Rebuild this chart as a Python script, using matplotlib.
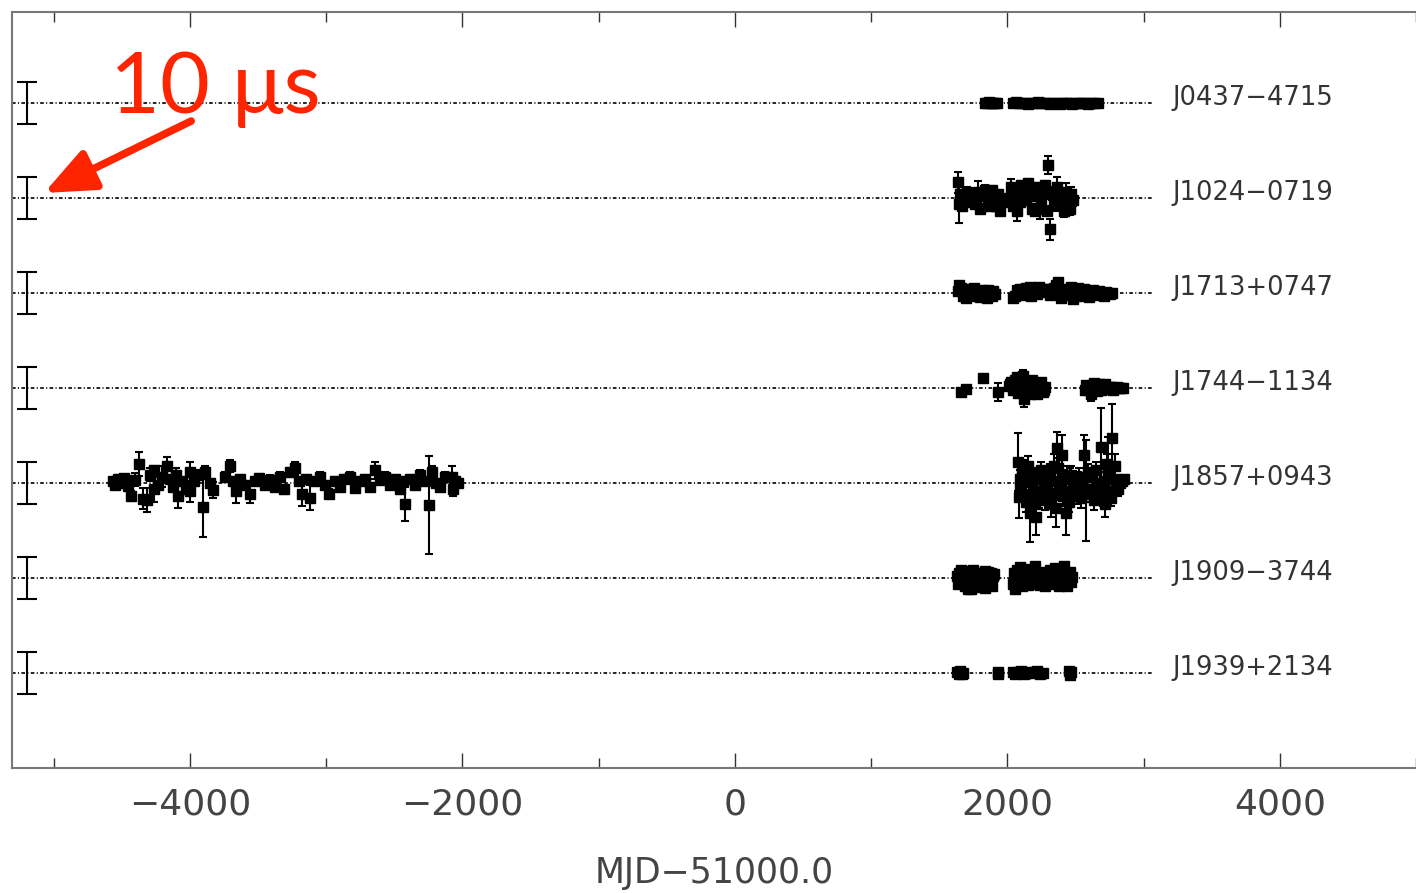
import numpy as np
import matplotlib
matplotlib.use('Agg')
import matplotlib.pyplot as plt
from matplotlib.ticker import MultipleLocator

# pulsar names, top to bottom
pulsars = ['J0437\u22124715', 'J1024\u22120719', 'J1713+0747', 'J1744\u22121134',
           'J1857+0943', 'J1909\u22123744', 'J1939+2134']

# timing residuals: day (MJD-51000), residual (us), error (us)
j0437_day = [1835, 1850, 1865, 1880, 1895, 1910, 1925,
             2040, 2063, 2086, 2109, 2132, 2155, 2178, 2201, 2224, 2247, 2270, 2293,
             2316, 2339, 2362, 2385, 2408, 2431, 2454, 2477, 2500, 2523, 2546, 2569,
             2592, 2615, 2640, 2665]
j0437_res = [0.1, -0.1, 0.2, 0.0, -0.1, 0.1, 0.1, -0.1, 0.2, 0.0, -0.1, 0.1,
             -0.3, 0.1, -0.1, 0.2, 0.0, -0.1, 0.1, -0.2, 0.1, 0.0, -0.3, 0.1,
             -0.1, 0.1, -0.3, 0.0, 0.1, -0.1, 0.1, -0.2, 0.0, 0.1, -0.1]
j0437_err = [0.1] * len(j0437_day)

j1024_day = [1635, 1645, 1660, 1690, 1725, 1760, 1785, 1820, 1855, 1885, 1915, 1945,
             1980, 2025, 2045, 2075, 2100, 2120, 2140, 2165, 2185, 2210, 2240, 2260,
             2300, 2310, 2325, 2365, 2400, 2430, 2460, 2480,
             1650, 1670, 1705, 1740, 1800, 1840, 1870, 1900, 1930, 2010, 2060, 2090,
             2150, 2175, 2200, 2225, 2250, 2275, 2290, 2340, 2380, 2415, 2445, 2470]
j1024_res = [3.8, -1.5, 0.5, -0.5, 0.8, -1.5, 1.5, 0.5, -1.0, 1.8, -2.0, -3.0,
             -1.0, 2.5, -2.0, -3.0, 3.0, 1.0, -0.5, 2.0, -2.5, 0.5, -2.5, 1.5,
             7.9, -7.4, 1.0, 2.5, -1.0, 1.5, -2.5, -0.5,
             1.0, -2.0, 1.5, -1.0, -2.5, 2.0, -2.0, 0.5, 1.0, 0.0, 1.5, -1.0,
             3.5, 0.5, -3.0, 2.5, -1.0, 3.0, -3.0, -1.5, 0.5, -3.0, 0.0, 1.0]
j1024_err = [2.5, 4.5, 1.0, 0.8, 0.8, 0.8, 2.5, 1.0, 1.0, 1.0, 1.0, 1.0,
             1.0, 2.0, 1.0, 2.5, 1.0, 1.2, 1.0, 1.0, 1.0, 1.0, 2.5, 1.0,
             2.1, 2.5, 1.5, 2.5, 2.0, 2.0, 1.5, 1.5,
             1.0, 1.0, 1.0, 1.0, 1.0, 1.0, 1.0, 1.0, 1.0, 1.0, 1.0, 1.0,
             1.0, 1.0, 1.0, 1.0, 1.0, 1.0, 1.0, 1.5, 1.5, 1.5, 1.5, 1.5]

j1713_day = [1637, 1649, 1661, 1672, 1684, 1696, 1708, 1720, 1731, 1743, 1755, 1767,
             1778, 1790, 1802, 1814, 1826, 1837, 1849, 1861, 1873, 1885, 1896, 1908,
             2040, 2054, 2068, 2081, 2095, 2109, 2122, 2136, 2150, 2164, 2177, 2191,
             2205, 2218, 2232, 2246, 2260, 2273, 2287, 2301, 2314, 2328, 2342, 2355,
             2369, 2383, 2397, 2410, 2424, 2438, 2451, 2465, 2479, 2493, 2506, 2520,
             2534, 2547, 2561, 2575, 2589, 2602, 2616, 2630, 2643, 2657, 2671, 2684,
             2698, 2712, 2726, 2739, 2753, 2767]
j1713_res = [0.5, 1.8, 1.2, -0.8, 0.6, -1.2, 0.3, 0.9, -0.5, 0.4, 1.1, 0.2,
             -0.6, 0.5, -0.9, 0.8, -0.4, 0.3, -1.3, 0.6, 0.2, -0.7, 0.4, -0.2,
             -1.2, -0.8, 0.8, 0.3, 1.0, -0.5, 0.9, 1.2, 0.4, 1.4, -0.6, 0.8,
             1.1, -0.3, 1.5, 0.6, 0.6, 1.0, 1.0, 0.2, -0.5, 0.8, 1.2, 2.0,
             2.6, 0.3, -1.3, 0.5, 1.0, 0.6, -0.4, 1.4, -1.5, 0.2, 0.8, 1.1,
             -0.6, 0.3, 0.9, -0.2, 0.5, -1.0, 0.3, 0.6, -0.5, 0.2, 0.4, -0.3,
             0.1, -0.6, 0.3, 0.0, -0.2, 0.1]
j1713_err = [0.3] * len(j1713_day)

j1744_day = [1660, 1700, 1820, 1935, 2010, 2030, 2050, 2070, 2090, 2115, 2120, 2140,
             2160, 2180, 2200, 2220, 2240, 2260, 2280, 2570, 2590, 2613, 2630, 2650,
             2670, 2690, 2710, 2730, 2760, 2790, 2820, 2850,
             2020, 2040, 2060, 2080, 2100, 2130, 2150, 2170, 2190, 2210, 2230, 2250,
             2270, 2580, 2600, 2620, 2640, 2660, 2680, 2700, 2720, 2745, 2775, 2805,
             2835]
j1744_res = [-1.0, -0.3, 2.3, -1.0, 0.5, 1.5, 0.0, 2.5, 1.0, 2.8, -2.5, -1.0,
             0.5, 1.8, -0.5, -1.5, 0.8, -1.0, 0.3, -0.5, 0.5, -1.5, 0.8, 0.2,
             1.0, -0.5, 0.5, -0.3, 0.3, 0.0, 0.1, 0.0,
             1.0, -0.5, 1.8, -1.2, 2.0, 0.5, 1.5, -1.5, 1.0, 0.2, -0.8, 1.5,
             -0.5, 0.8, -0.5, 0.3, 1.2, -0.8, 0.6, -0.2, 0.9, 0.2, -0.4, 0.3,
             -0.1]
j1744_err = [0.8, 0.5, 0.6, 2.2, 0.5, 0.6, 0.8, 0.8, 0.8, 1.5, 2.0, 0.8,
             0.7, 0.8, 0.8, 0.8, 0.8, 0.8, 0.6, 0.6, 0.5, 1.5, 0.5, 0.5,
             0.5, 0.5, 0.5, 0.5, 0.5, 0.5, 0.4, 0.3,
             0.6, 0.6, 0.6, 0.6, 0.8, 0.6, 0.6, 0.6, 0.6, 0.6, 0.6, 0.6,
             0.6, 0.5, 0.5, 0.5, 0.5, 0.5, 0.5, 0.5, 0.5, 0.5, 0.5, 0.5,
             0.5]

j1857_day = [-4565, -4550, -4530, -4510, -4485, -4455, -4430, -4400, -4370, -4345,
             -4315, -4295, -4265, -4260, -4235, -4205, -4170, -4145, -4125, -4100,
             -4090, -4060, -4030, -4000, -3995, -3970, -3940, -3905, -3885, -3855,
             -3830, -3745, -3705, -3685, -3660, -3630, -3605, -3560, -3525, -3490,
             -3450, -3415, -3375, -3340, -3305, -3265, -3230, -3195, -3175, -3150,
             -3120, -3085, -3045, -3010, -2975, -2935, -2900, -2865, -2825, -2790,
             -2750, -2715, -2680, -2640, -2605, -2570, -2530, -2495, -2460, -2435,
             -2420, -2385, -2350, -2310, -2275, -2245, -2225, -2195, -2165, -2130,
             -2075, -2070, -2050, -2030,
             2080, 2085, 2095, 2100, 2120, 2140, 2165, 2180, 2200, 2210, 2220, 2240,
             2260, 2280, 2300, 2330, 2340, 2360, 2365, 2380, 2400, 2410, 2430, 2440,
             2460, 2480, 2500, 2520, 2540, 2560, 2575, 2605, 2620, 2640, 2660, 2685,
             2700, 2720, 2740, 2750, 2770, 2790, 2800, 2825, 2855,
             2090, 2110, 2130, 2150, 2170, 2190, 2230, 2250, 2270, 2290, 2310, 2320,
             2350, 2370, 2390, 2420, 2450, 2470, 2490, 2510, 2530, 2550, 2590, 2630,
             2650, 2670, 2710, 2730, 2760, 2780, 2810, 2840]
j1857_res = [0.5, -0.5, 1.0, 0.0, 1.2, -0.8, -3.2, 0.8, 4.5, -3.8,
             -4.0, 2.0, 3.0, -1.5, -0.5, 1.5, 4.0, 1.0, -1.0, 2.0,
             -3.0, 0.5, -1.5, 2.5, -2.0, 0.5, 2.0, -5.7, 2.5, 0.0,
             -1.7, 1.5, 4.0, 0.5, -2.0, 1.0, -0.5, -2.5, 0.5, 1.2,
             -0.5, 0.8, -1.0, 1.5, -1.5, 2.5, 3.5, 0.5, -2.5, 1.0,
             -3.5, 0.5, 1.5, -0.5, -2.5, 0.5, -1.0, 1.0, 1.5, -1.2,
             0.5, 1.0, -1.0, 3.0, 0.8, 1.5, -0.5, 1.0, -1.5, 0.5,
             -5.0, 1.0, -0.5, 2.0, 0.5, -5.2, 2.5, 0.0, -1.0, 1.5,
             1.5, -1.5, 0.5, 0.0,
             5.0, -3.3, 1.0, -1.5, 3.0, -4.5, -7.1, 0.5, -5.0, -8.1, 1.0, -2.0,
             1.5, -4.0, 2.0, -2.5, 4.0, -6.0, 8.3, 0.0, 6.7, -3.0, -7.1, 2.0,
             1.0, -1.5, -2.0, 0.5, -3.5, 6.7, -1.7, -2.5, 1.5, -4.0, 0.0, 8.6,
             -3.0, -5.0, 3.0, -2.0, 10.7, 4.0, -1.0, 0.0, 1.0,
             -1.0, 2.0, -2.5, 4.0, -3.0, 1.5, -3.5, 3.0, 0.0, -1.5, 2.5, -5.0,
             0.5, 3.5, -2.0, 1.0, -4.5, 2.0, 0.0, -3.0, 1.5, -1.0, 2.5, -1.5,
             3.0, -2.5, 0.5, 4.5, -3.5, 1.0, -1.5, 0.5]
j1857_err = [0.8, 0.8, 0.8, 0.8, 0.8, 0.8, 1.2, 1.5, 2.8, 2.5,
             2.8, 1.5, 1.0, 3.0, 1.0, 2.5, 2.3, 1.0, 1.0, 1.5,
             3.0, 1.0, 1.0, 2.5, 2.5, 1.0, 1.0, 7.1, 1.5, 1.0,
             1.9, 1.0, 1.5, 1.0, 2.7, 1.0, 1.0, 2.2, 1.0, 1.0,
             1.0, 1.0, 1.0, 1.0, 1.0, 1.0, 1.5, 1.0, 3.0, 1.0,
             3.0, 1.0, 1.0, 1.0, 1.0, 1.0, 1.0, 1.0, 1.0, 1.0,
             1.0, 1.0, 1.0, 2.0, 1.0, 1.0, 1.0, 1.0, 1.0, 1.0,
             4.0, 1.0, 1.0, 1.0, 1.0, 11.7, 1.5, 1.0, 1.0, 1.0,
             2.5, 1.5, 1.0, 1.0,
             6.9, 5.0, 2.0, 2.0, 2.5, 2.5, 6.9, 2.0, 3.0, 4.3, 2.0, 2.0,
             2.0, 2.5, 2.0, 2.5, 3.0, 4.5, 3.8, 2.5, 4.8, 2.5, 5.2, 2.0,
             2.5, 2.0, 2.0, 2.0, 2.5, 4.8, 12.0, 2.0, 2.0, 2.5, 2.0, 9.3,
             2.5, 3.0, 8.0, 2.0, 8.1, 3.0, 2.0, 1.5, 1.0,
             2.5, 2.0, 2.0, 2.5, 2.0, 2.0, 2.5, 2.0, 2.0, 2.0, 2.0, 3.0,
             2.0, 2.5, 2.0, 2.0, 2.5, 2.0, 2.0, 2.0, 2.0, 2.0, 2.0, 2.0,
             2.0, 2.0, 2.0, 2.5, 2.0, 2.0, 1.5, 1.0]

j1909_day = [1630, 1638, 1645, 1653, 1660, 1668, 1675, 1683, 1690, 1698, 1705, 1713,
             1720, 1728, 1735, 1743, 1750, 1758, 1765, 1773, 1780, 1788, 1795, 1803,
             1810, 1818, 1825, 1833, 1840, 1848, 1855, 1863, 1870, 1878, 1885, 1895,
             1905,
             2040, 2049, 2057, 2066, 2075, 2083, 2092, 2101, 2110, 2118, 2127, 2136,
             2144, 2153, 2162, 2170, 2179, 2188, 2196, 2205, 2214, 2223, 2231, 2240,
             2249, 2257, 2266, 2275, 2283, 2292, 2301, 2310, 2318, 2327, 2336, 2344,
             2353, 2362, 2370, 2379, 2388, 2397, 2405, 2414, 2423, 2431, 2440, 2449,
             2457, 2466, 2475]
j1909_res = [0.5, -1.5, 1.2, -0.5, 1.8, -1.0, 0.3, 1.5, -1.8, 0.8, 1.6, -2.5,
             0.2, 1.5, -2.6, -0.8, 1.9, -1.2, 1.0, 0.4, -0.9, 1.3, -2.2, 0.7,
             1.1, -1.6, 0.2, 1.7, -2.4, -0.3, 1.4, -1.1, 0.6, 1.2, -1.9, 0.4,
             0.9,
             -1.5, 1.2, -2.5, 0.6, 1.8, -1.0, 2.7, 0.4, -1.8, 1.5, 2.2, -0.6,
             1.0, -1.6, 1.9, 0.3, -1.2, 1.6, -0.5, 2.8, -1.4, 1.0, 0.6, -1.7,
             1.3, -0.8, 0.9, -2.0, 1.5, 0.2, -1.1, 2.0, -0.4, 1.2, -1.5, 0.7,
             2.4, -0.9, 1.1, -1.8, 0.5, 1.6, -1.2, 2.9, -0.6, 1.0, -1.9, 0.8,
             1.4, -1.0, 0.3]
j1909_err = [0.4] * len(j1909_day)

j1939_day = [1630, 1645, 1655, 1665, 1675, 1930, 1935, 2040, 2060, 2080, 2100, 2120,
             2140, 2160, 2180, 2200, 2220, 2240, 2260, 2450, 2460, 2470]
j1939_res = [0.3, -0.3, 0.4, -0.2, 0.1, 0.2, -0.2, 0.3, -0.3, 0.2, 0.4, -0.2,
             0.1, 0.3, -0.1, 0.2, 0.4, -0.3, 0.1, 0.5, -0.5, 0.2]
j1939_err = [0.2] * len(j1939_day)

series = [(j0437_day, j0437_res, j0437_err), (j1024_day, j1024_res, j1024_err),
          (j1713_day, j1713_res, j1713_err), (j1744_day, j1744_res, j1744_err),
          (j1857_day, j1857_res, j1857_err), (j1909_day, j1909_res, j1909_err),
          (j1939_day, j1939_res, j1939_err)]

scale_bar_us = 10.0
us_per_row = 22.6     # vertical spacing between pulsars in microseconds
red = '#ff2400'

fig = plt.figure(figsize=(14.16, 8.93), dpi=100)
ax = fig.add_axes([12 / 1416, 125 / 893, 1404 / 1416, 756 / 893])

x_lo, x_hi = -5305, 5000
line_end = 3068
bar_x = -5196
nrow = len(pulsars)

for i, name in enumerate(pulsars):
    y0 = nrow - i
    ax.plot([x_lo, line_end], [y0, y0], color='#111111', lw=1.3,
            dashes=(2.0, 1.3, 0.6, 1.3), zorder=1)
    day, res, err = series[i]
    ax.errorbar(day, y0 + np.array(res) / us_per_row, yerr=np.array(err) / us_per_row,
                fmt='s', ms=7.5, color='black', ecolor='black', elinewidth=1.5,
                capsize=3, capthick=1.5, zorder=3)
    # 10 us scale bar
    ax.errorbar([bar_x], [y0], yerr=[scale_bar_us / 2 / us_per_row], fmt='none',
                ecolor='black', elinewidth=1.5, capsize=7, capthick=1.5, zorder=3)
    ax.text(3215, y0 - 2 / 95, name, fontsize=18.5, color='#333333',
            family='DejaVu Sans', ha='left', va='baseline')

ax.text(-4587, nrow - 10 / 95, '10 \u03bcs', fontsize=62, color=red,
        family=['Lato', 'DejaVu Sans'], ha='left', va='baseline')
ax.annotate('', xy=(-5070, nrow - 0.947), xytext=(-3990, nrow - 0.19),
            arrowprops=dict(arrowstyle='-|>,head_length=0.85,head_width=0.36',
                            mutation_scale=36, color=red, lw=5.5,
                            shrinkA=0, shrinkB=0), zorder=5)

ax.set_xlim(x_lo, x_hi)
ax.set_ylim(0, nrow + 0.958)
ax.set_yticks([])
ax.xaxis.set_major_locator(MultipleLocator(2000))
ax.xaxis.set_minor_locator(MultipleLocator(1000))
ax.tick_params(axis='x', which='both', direction='in', top=True, bottom=True,
               colors='#333333', labelcolor='#444444', width=1.0)
ax.tick_params(axis='x', which='major', length=11, pad=14, labelsize=26)
ax.tick_params(axis='x', which='minor', length=7)
for lab in ax.get_xticklabels():
    lab.set_family('DejaVu Sans')
ax.set_xlabel('MJD\u221251000.0', fontsize=25, color='#444444', labelpad=25,
              family='DejaVu Sans')

for side in ['left', 'top', 'bottom']:
    ax.spines[side].set_color('#777777')
    ax.spines[side].set_linewidth(1.5)
ax.spines['right'].set_visible(False)

fig.savefig('out.png', dpi=100)
